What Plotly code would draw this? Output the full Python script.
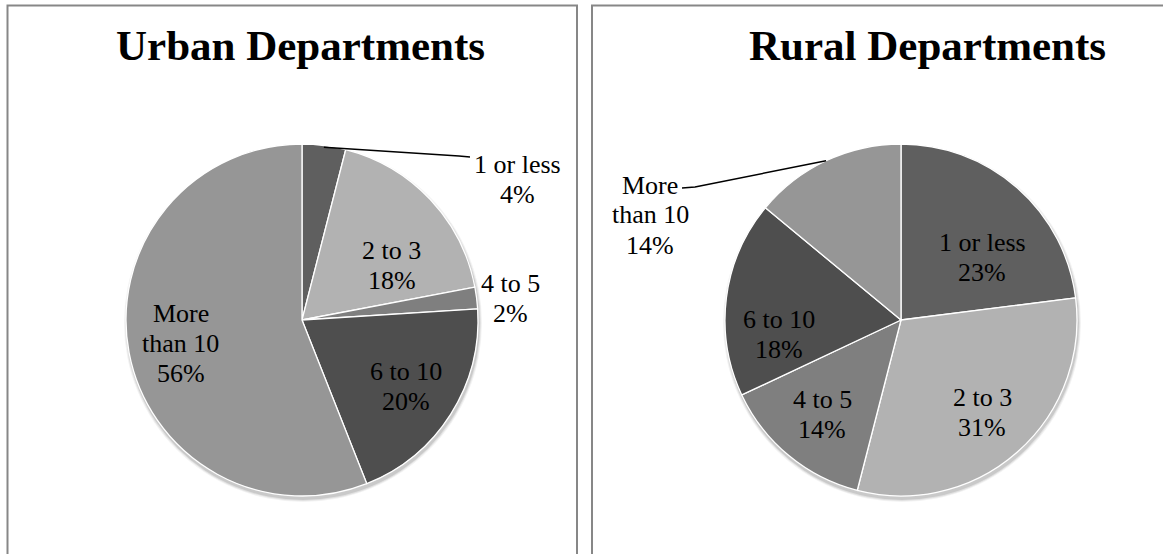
import math
import plotly.graph_objects as go

# Chart data
categories = ["1 or less", "2 to 3", "4 to 5", "6 to 10", "More than 10"]
urban_pct = [4, 18, 2, 20, 56]
rural_pct = [23, 31, 14, 18, 14]
panel_titles = ["Urban Departments", "Rural Departments"]

slice_colors = ["#5f5f5f", "#b2b2b2", "#7f7f7f", "#4e4e4e", "#969696"]

W, H = 1163, 554
SERIF = "Times New Roman, Liberation Serif, serif"
LABEL_SIZE = 26
LINE_STEP = 30


def px(x):
    return x / W


def py(y):
    return 1 - y / H


annotations = []
shapes = []


def add_label(lines, x, top):
    """Stack text lines manually so the line spacing stays tight."""
    for k, t in enumerate(lines):
        annotations.append(dict(
            x=px(x), y=py(top + LINE_STEP / 2 + k * LINE_STEP),
            xref="paper", yref="paper", text=t, showarrow=False,
            font=dict(family=SERIF, size=LABEL_SIZE, color="black"),
            xanchor="center", yanchor="middle",
        ))


# pie geometry in pixels (centre x, centre y, radius)
R = 176
pies = [
    dict(cx=302, cy=320, values=urban_pct, title_x=300, outside={0, 2}),
    dict(cx=901, cy=320, values=rural_pct, title_x=927, outside={4}),
]

fig = go.Figure()

for i, p in enumerate(pies):
    cx, cy = p["cx"], p["cy"]
    # soft drop shadow under each pie
    for k, a in enumerate([0.10, 0.07, 0.05]):
        rr = R + 1 + k
        shapes.append(dict(
            type="circle", xref="paper", yref="paper", layer="below",
            x0=px(cx + 1 - rr), x1=px(cx + 1 + rr),
            y0=py(cy + 3 + rr), y1=py(cy + 3 - rr),
            fillcolor=f"rgba(0,0,0,{a})", line=dict(width=0),
        ))

    fig.add_trace(go.Pie(
        labels=categories, values=p["values"], sort=False,
        direction="clockwise", rotation=0,
        marker=dict(colors=slice_colors, line=dict(color="white", width=1.3)),
        textinfo="none", hoverinfo="label+percent", showlegend=False,
        domain=dict(x=[px(cx - R), px(cx + R)], y=[py(cy + R), py(cy - R)]),
    ))

    # inside labels placed along each slice's mid angle;
    # labels in the upper half hang below their anchor point
    total = sum(p["values"])
    cum = 0
    for j, (lab, v) in enumerate(zip(categories, p["values"])):
        mid = (cum + v / 2) / total * 2 * math.pi
        cum += v
        if j in p["outside"]:
            continue
        r = 0.70 * R
        x = cx + r * math.sin(mid)
        y = cy - r * math.cos(mid)
        lines = (["More", "than 10"] if lab == "More than 10" else [lab])
        lines.append(f"{round(v / total * 100)}%")
        block = LINE_STEP * len(lines)
        top = y if math.cos(mid) > 0 else y - block / 2
        add_label(lines, x, top)

    annotations.append(dict(
        x=px(p["title_x"]), y=py(45), xref="paper", yref="paper",
        text=f"<b>{panel_titles[i]}</b>", showarrow=False,
        font=dict(family=SERIF, size=43, color="black"),
        xanchor="center", yanchor="middle",
    ))


def edge_point(vals, idx, cx, cy, frac):
    total = sum(vals)
    start = sum(vals[:idx])
    ang = (start + vals[idx] / 2) / total * 2 * math.pi
    return cx + frac * R * math.sin(ang), cy - frac * R * math.cos(ang)


# Urban: "1 or less" label with leader line
sx, sy = edge_point(urban_pct, 0, 302, 320, 0.99)
shapes.append(dict(type="path", xref="paper", yref="paper",
                   path=f"M {px(sx)} {py(sy)} L {px(459)} {py(156)} L {px(470)} {py(157)}",
                   line=dict(color="black", width=1.5)))
add_label([categories[0], f"{urban_pct[0]}%"], 517, 149)

# Urban: "4 to 5" label beside its slice
add_label([categories[2], f"{urban_pct[2]}%"], 510, 268)

# Rural: "More than 10" label with leader line
sx, sy = edge_point(rural_pct, 4, 901, 320, 1.0)
shapes.append(dict(type="path", xref="paper", yref="paper",
                   path=f"M {px(sx)} {py(sy)} L {px(695)} {py(187)} L {px(682)} {py(188)}",
                   line=dict(color="black", width=1.5)))
add_label(["More", "than 10", f"{rural_pct[4]}%"], 650, 170)

# panel frames
frame = dict(color="#878787", width=2)
shapes.append(dict(type="rect", xref="paper", yref="paper",
                   x0=px(7.5), x1=px(577), y0=py(570), y1=py(5.5), line=frame))
shapes.append(dict(type="rect", xref="paper", yref="paper",
                   x0=px(592), x1=px(1180), y0=py(570), y1=py(5.5), line=frame))

fig.update_layout(
    width=W, height=H, margin=dict(l=0, r=0, t=0, b=0),
    paper_bgcolor="white", plot_bgcolor="white",
    shapes=shapes, annotations=annotations,
)

fig.write_html("out.html")
